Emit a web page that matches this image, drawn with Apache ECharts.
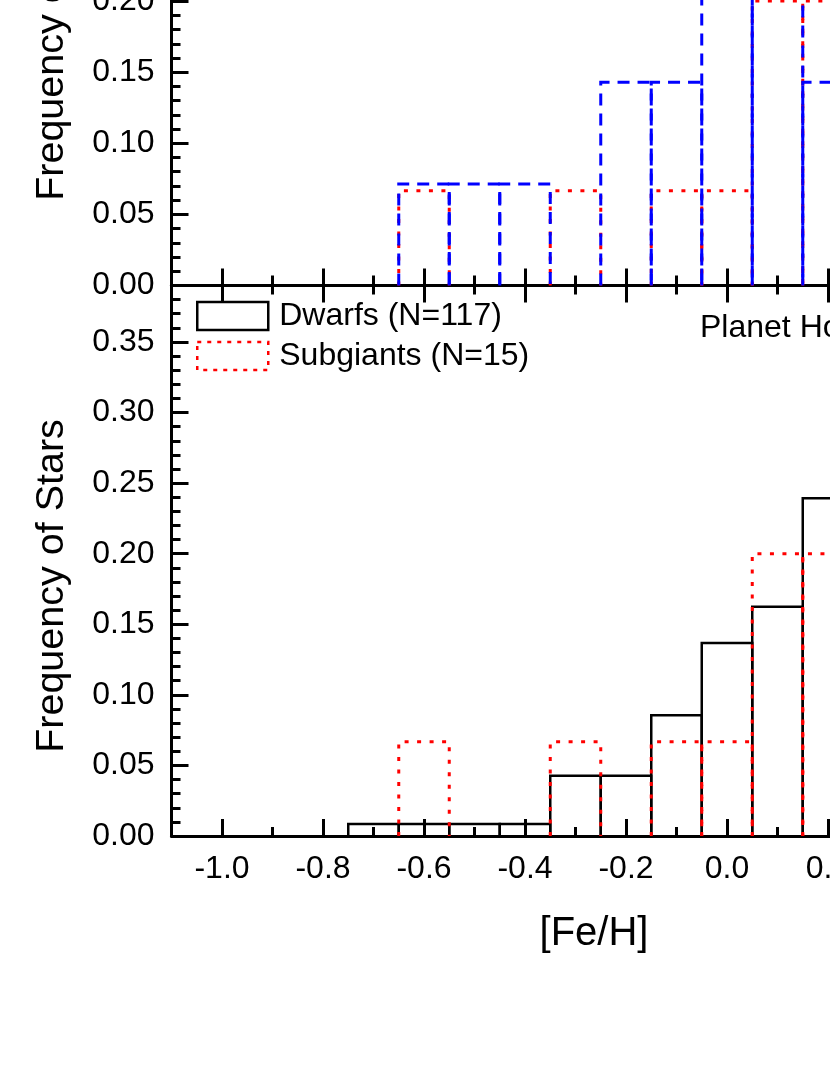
<!DOCTYPE html>
<html>
<head>
<meta charset="utf-8">
<title>[Fe/H] histograms</title>
<script src="https://cdn.jsdelivr.net/npm/echarts@6.0.0/dist/echarts.min.js"></script>
<style>
  html, body { margin: 0; padding: 0; background: #fff; }
  #chart { width: 830px; height: 1075px; }
</style>
</head>
<body>
<div id="chart"></div>
<script>
  /** bin centres, bins are 0.1 dex wide */
  const binCenters = [-0.7, -0.6, -0.5, -0.4, -0.3, -0.2, -0.1, 0.0, 0.1, 0.2]
  const binWidth = 0.1

  /** upper panel (blue dashed / red dotted) */
  const upperBlue = [0, 0.0714, 0.0714, 0.0714, 0, 0.1429, 0.1429, 0.2143, 0.2143, 0.1429]
  const upperRed = [0, 0.0667, 0, 0, 0.0667, 0, 0.0667, 0.0667, 0.2, 0.2]

  /** lower panel, planet hosts */
  const dwarfs = [0.0085, 0.0085, 0.0085, 0.0085, 0.0427, 0.0427, 0.0855, 0.1368, 0.1624, 0.2393]
  const subgiants = [0, 0.0667, 0, 0, 0.0667, 0, 0.0667, 0.0667, 0.2, 0.2]

  /** tick values */
  const xMajorTicks = [-1.0, -0.8, -0.6, -0.4, -0.2, 0.0, 0.2, 0.4, 0.6]
  const xMinorTicks = [-0.9, -0.7, -0.5, -0.3, -0.1, 0.1, 0.3, 0.5]
  const upperYTicks = [0, 0.05, 0.10, 0.15, 0.20, 0.25]
  const lowerYTicks = [0, 0.05, 0.10, 0.15, 0.20, 0.25, 0.30, 0.35]
  const upperYMinor = [0.01, 0.02, 0.03, 0.04, 0.06, 0.07, 0.08, 0.09, 0.11, 0.12, 0.13, 0.14,
    0.16, 0.17, 0.18, 0.19, 0.21, 0.22, 0.23, 0.24]
  const lowerYMinor = [0.01, 0.02, 0.03, 0.04, 0.06, 0.07, 0.08, 0.09, 0.11, 0.12, 0.13, 0.14,
    0.16, 0.17, 0.18, 0.19, 0.21, 0.22, 0.23, 0.24, 0.26, 0.27, 0.28, 0.29, 0.31, 0.32, 0.33, 0.34,
    0.36, 0.37, 0.38]

  const FONT = "'Liberation Sans', Arial, sans-serif"
  const RED = '#ff0000'
  const BLUE = '#0000ff'
  const X_MIN = -1.1
  const X_MAX = 0.6

  /** open bar outline: left, top, right (no bottom edge over the axis) */
  function barOutline(color, width, dash) {
    return function (params, api) {
      const v = api.value(1)
      if (!v) return
      const c = api.value(0)
      const tl = api.coord([c - binWidth / 2, v])
      const br = api.coord([c + binWidth / 2, 0])
      return {
        type: 'polyline',
        shape: { points: [[tl[0], br[1]], [tl[0], tl[1]], [br[0], tl[1]], [br[0], br[1]]] },
        style: { fill: null, stroke: color, lineWidth: width, lineDash: dash }
      }
    }
  }

  function histSeries(name, values, xi, yi, color, width, dash, z) {
    return {
      name: name,
      type: 'custom',
      xAxisIndex: xi,
      yAxisIndex: yi,
      z: z,
      clip: false,
      itemStyle: { color: 'rgba(0,0,0,0)', borderColor: color },
      renderItem: barOutline(color, width, dash),
      data: binCenters.map((c, i) => [c, values[i]])
    }
  }

  function xAxisOf(grid, position, ticks, len, line, labels) {
    return {
      type: 'value',
      gridIndex: grid,
      position: position,
      min: X_MIN,
      max: X_MAX,
      splitLine: { show: false },
      axisLine: { show: line, onZero: false, lineStyle: { color: '#000', width: 3 } },
      axisTick: { show: true, inside: true, length: len, customValues: ticks, lineStyle: { color: '#000', width: 3 } },
      axisLabel: labels
        ? { show: true, customValues: xMajorTicks, color: '#000', fontFamily: FONT, fontSize: 32, margin: 17,
            formatter: v => v.toFixed(1) }
        : { show: false }
    }
  }

  function yAxisOf(grid, max, majors, minors, isMinor) {
    return {
      type: 'value',
      gridIndex: grid,
      position: 'left',
      min: 0,
      max: max,
      splitLine: { show: false },
      axisLine: { show: !isMinor, onZero: false, lineStyle: { color: '#000', width: 3 } },
      axisTick: { show: true, inside: true, length: isMinor ? 9 : 17, customValues: isMinor ? minors : majors,
        lineStyle: { color: '#000', width: 3 } },
      axisLabel: isMinor
        ? { show: false }
        : { show: true, customValues: majors, color: '#000', fontFamily: FONT, fontSize: 32, margin: 17,
            formatter: v => v.toFixed(2) }
    }
  }

  const chart = echarts.init(document.getElementById('chart'), null, { renderer: 'canvas' })

  chart.setOption({
    animation: false,
    backgroundColor: '#fff',
    grid: [
      { left: 171.5, top: -70, width: 858.5, height: 355.5, outerBoundsMode: 'none', containLabel: false },
      { left: 171.5, top: 285.5, width: 858.5, height: 550.5, outerBoundsMode: 'none', containLabel: false }
    ],
    xAxis: [
      xAxisOf(0, 'bottom', xMajorTicks, 17, true, false),
      xAxisOf(0, 'bottom', xMinorTicks, 10, false, false),
      xAxisOf(1, 'top', xMajorTicks, 17, true, false),
      xAxisOf(1, 'top', xMinorTicks, 9, false, false),
      xAxisOf(1, 'bottom', xMajorTicks, 17, true, true),
      xAxisOf(1, 'bottom', xMinorTicks, 9, false, false)
    ],
    yAxis: [
      yAxisOf(0, 0.25, upperYTicks, upperYMinor, false),
      yAxisOf(0, 0.25, upperYTicks, upperYMinor, true),
      yAxisOf(1, 0.39, lowerYTicks, lowerYMinor, false),
      yAxisOf(1, 0.39, lowerYTicks, lowerYMinor, true)
    ],
    legend: {
      left: 196,
      top: 300,
      padding: 0,
      orient: 'vertical',
      selectedMode: false,
      itemWidth: 71,
      itemHeight: 28,
      itemGap: 8,
      textStyle: { color: '#000', fontFamily: FONT, fontSize: 32, lineHeight: 28, padding: [0, 0, 0, 6] },
      data: [
        { name: 'Dwarfs (N=117)', icon: 'rect',
          itemStyle: { color: 'rgba(0,0,0,0)', borderColor: '#000', borderWidth: 2.5 } },
        { name: 'Subgiants (N=15)', icon: 'rect',
          itemStyle: { color: 'rgba(0,0,0,0)', borderColor: RED, borderWidth: 2.5, borderType: [4, 6] } }
      ]
    },
    graphic: [
      { type: 'text', left: 700, top: 312,
        style: { text: 'Planet Hosts', fill: '#000', font: '32px ' + FONT } },
      { type: 'text', x: 52, y: 586, rotation: Math.PI / 2,
        style: { text: 'Frequency of Stars', fill: '#000', font: '39.5px ' + FONT, align: 'center', verticalAlign: 'middle' } },
      { type: 'text', x: 52, y: 34, rotation: Math.PI / 2,
        style: { text: 'Frequency of Stars', fill: '#000', font: '39.5px ' + FONT, align: 'center', verticalAlign: 'middle' } },
      { type: 'text', x: 594, y: 934,
        style: { text: '[Fe/H]', fill: '#000', font: '40px ' + FONT, align: 'center', verticalAlign: 'middle' } }
    ],
    series: [
      histSeries('Upper red', upperRed, 0, 0, RED, 3, [4, 8.5], 2),
      histSeries('Upper blue', upperBlue, 0, 0, BLUE, 3, [12, 8], 3),
      histSeries('Dwarfs (N=117)', dwarfs, 4, 2, '#000', 2.5, null, 2),
      histSeries('Subgiants (N=15)', subgiants, 4, 2, RED, 3, [4, 8.5], 3)
    ]
  })
</script>
</body>
</html>
